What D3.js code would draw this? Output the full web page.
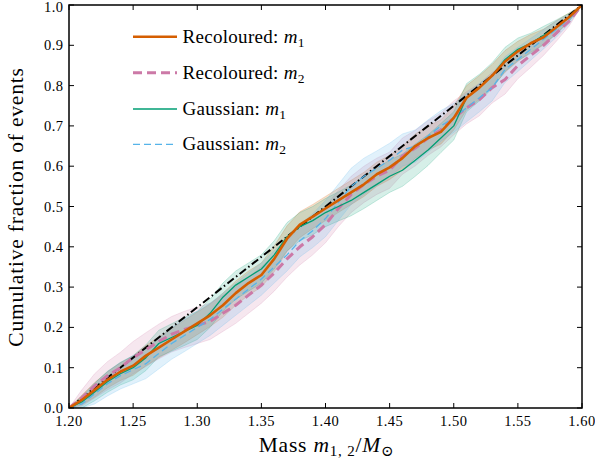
<!DOCTYPE html>
<html><head><meta charset="utf-8">
<script src="https://cdn.jsdelivr.net/npm/d3@7"></script>
<style>
body{margin:0;background:#fff;}
svg{display:block;font-family:"Liberation Serif","DejaVu Serif",serif;}
</style></head>
<body><svg id="c" width="595" height="461"></svg>
<script>
const masses = [1.20,1.21,1.22,1.23,1.24,1.25,1.26,1.27,1.28,1.29,1.30,1.31,1.32,1.33,1.34,1.35,1.36,1.37,1.38,1.39,1.40,1.41,1.42,1.43,1.44,1.45,1.46,1.47,1.48,1.49,1.50,1.51,1.52,1.53,1.54,1.55,1.56,1.57,1.58,1.59,1.60];
const rec1 = [0,0.02,0.045,0.07,0.09,0.105,0.13,0.15,0.17,0.19,0.21,0.23,0.255,0.285,0.31,0.33,0.37,0.42,0.455,0.475,0.495,0.515,0.535,0.555,0.58,0.597,0.62,0.65,0.67,0.685,0.72,0.77,0.795,0.825,0.86,0.885,0.905,0.92,0.945,0.97,1.0];
const rec2 = [0,0.025,0.055,0.08,0.1,0.125,0.145,0.165,0.183,0.195,0.205,0.215,0.235,0.255,0.28,0.305,0.335,0.37,0.40,0.425,0.455,0.495,0.53,0.555,0.575,0.59,0.625,0.645,0.67,0.69,0.72,0.745,0.765,0.795,0.815,0.85,0.875,0.9,0.93,0.96,1.0];
const gau1 = [0,0.015,0.04,0.065,0.085,0.1,0.125,0.16,0.175,0.19,0.205,0.235,0.275,0.305,0.325,0.345,0.38,0.425,0.45,0.465,0.485,0.50,0.515,0.535,0.555,0.575,0.59,0.615,0.64,0.67,0.70,0.77,0.795,0.825,0.865,0.89,0.905,0.925,0.945,0.97,1.0];
const gau2 = [0,0.01,0.035,0.06,0.08,0.095,0.11,0.135,0.16,0.18,0.2,0.22,0.245,0.27,0.295,0.32,0.35,0.38,0.415,0.44,0.47,0.51,0.55,0.575,0.595,0.615,0.64,0.65,0.675,0.70,0.72,0.745,0.77,0.795,0.84,0.865,0.89,0.915,0.94,0.965,1.0];
const rec1Err = [0,0.012,0.018,0.02,0.022,0.024,0.025,0.026,0.027,0.028,0.028,0.028,0.03,0.03,0.03,0.03,0.032,0.032,0.032,0.03,0.03,0.03,0.03,0.03,0.03,0.03,0.03,0.03,0.03,0.03,0.03,0.03,0.03,0.028,0.027,0.025,0.022,0.02,0.016,0.01,0];
const rec2Err = [0,0.02,0.03,0.035,0.038,0.04,0.042,0.043,0.044,0.045,0.045,0.045,0.045,0.045,0.045,0.045,0.045,0.045,0.045,0.045,0.045,0.045,0.045,0.045,0.045,0.045,0.045,0.044,0.043,0.042,0.042,0.04,0.04,0.038,0.036,0.033,0.03,0.025,0.02,0.012,0];
const gau1Err = [0,0.015,0.022,0.026,0.028,0.03,0.032,0.033,0.034,0.035,0.035,0.035,0.035,0.035,0.035,0.035,0.035,0.035,0.035,0.035,0.035,0.036,0.038,0.04,0.04,0.04,0.04,0.04,0.038,0.036,0.035,0.035,0.033,0.032,0.03,0.028,0.025,0.022,0.018,0.01,0];
const gau2Err = [0,0.016,0.025,0.03,0.033,0.035,0.037,0.038,0.039,0.04,0.04,0.04,0.04,0.04,0.04,0.04,0.04,0.04,0.04,0.042,0.045,0.045,0.045,0.045,0.043,0.042,0.04,0.04,0.04,0.038,0.036,0.035,0.035,0.033,0.032,0.03,0.027,0.024,0.02,0.012,0];
const diagX = [1.20,1.60];
const diagY = [0,1];
const xTicks = [1.20,1.25,1.30,1.35,1.40,1.45,1.50,1.55,1.60];
const yTicks = [0.0,0.1,0.2,0.3,0.4,0.5,0.6,0.7,0.8,0.9,1.0];

const L=69,R=582,T=5,B=408;
const svg=d3.select("#c");
const x=d3.scaleLinear().domain([1.2,1.6]).range([L,R]);
const y=d3.scaleLinear().domain([0,1]).range([B,T]);

const series=[
 {name:"Recoloured",sub:"1",vals:rec1,err:rec1Err,color:"#d55e00",w:2.6,dash:null,band:0.2},
 {name:"Recoloured",sub:"2",vals:rec2,err:rec2Err,color:"#cc79a7",w:3,dash:"9,5",band:0.18},
 {name:"Gaussian",sub:"1",vals:gau1,err:gau1Err,color:"#009e73",w:1.3,dash:null,band:0.16},
 {name:"Gaussian",sub:"2",vals:gau2,err:gau2Err,color:"#56b4e9",w:1.3,dash:"7,4",band:0.18}
];

svg.append("clipPath").attr("id","pc").append("rect").attr("x",L).attr("y",T).attr("width",R-L).attr("height",B-T);
const g=svg.append("g").attr("clip-path","url(#pc)");

// bands
series.forEach(s=>{
  const area=d3.area().x((d,i)=>x(masses[i])).y0((d,i)=>y(Math.max(0,s.vals[i]-s.err[i]))).y1((d,i)=>y(Math.min(1,s.vals[i]+s.err[i])));
  g.append("path").datum(masses).attr("d",area).attr("fill",s.color).attr("fill-opacity",s.band)
   .attr("stroke",s.color).attr("stroke-opacity",0.25).attr("stroke-width",0.8);
});
// diagonal
g.append("path").datum(diagX).attr("d",d3.line().x(d=>x(d)).y((d,i)=>y(diagY[i])))
 .attr("fill","none").attr("stroke","#000").attr("stroke-width",2).attr("stroke-dasharray","8,3,1.5,3");
// lines
[1,3,2,0].forEach(k=>{
  const s=series[k];
  g.append("path").datum(masses).attr("d",d3.line().x(d=>x(d)).y((d,i)=>y(s.vals[i])))
   .attr("fill","none").attr("stroke",s.color).attr("stroke-width",s.w)
   .attr("stroke-dasharray",s.dash).attr("stroke-linejoin","round");
});

// ticks inward on all sides
const tk=svg.append("g").attr("stroke","#000").attr("stroke-width",1);
xTicks.forEach(t=>{
  tk.append("line").attr("x1",x(t)).attr("x2",x(t)).attr("y1",B).attr("y2",B-5);
  tk.append("line").attr("x1",x(t)).attr("x2",x(t)).attr("y1",T).attr("y2",T+5);
});
yTicks.forEach(t=>{
  tk.append("line").attr("x1",L).attr("x2",L+5).attr("y1",y(t)).attr("y2",y(t));
  tk.append("line").attr("x1",R).attr("x2",R-5).attr("y1",y(t)).attr("y2",y(t));
});
svg.append("rect").attr("x",L).attr("y",T).attr("width",R-L).attr("height",B-T)
 .attr("fill","none").attr("stroke","#000").attr("stroke-width",1.5);

// tick labels
svg.append("g").selectAll("text").data(xTicks).join("text")
 .attr("x",d=>x(d)).attr("y",425.5).attr("text-anchor","middle").attr("font-size",14.5).attr("letter-spacing",0.5)
 .text(d=>d3.format(".2f")(d));
svg.append("g").selectAll("text").data(yTicks).join("text")
 .attr("x",63.5).attr("y",d=>y(d)).attr("dy",d=>d===1?"0.45em":"0.35em").attr("text-anchor","end").attr("font-size",14.5).attr("letter-spacing",0.5)
 .text(d=>d3.format(".1f")(d));

// x label
const xl=svg.append("text").attr("x",326.5).attr("y",451.5).attr("text-anchor","middle").attr("font-size",21.5).attr("letter-spacing",0.8);
xl.append("tspan").text("Mass ");
xl.append("tspan").attr("font-style","italic").text("m");
xl.append("tspan").attr("font-size",15).attr("dy",4).text("1, 2");
xl.append("tspan").attr("dy",-4).text("/");
xl.append("tspan").attr("font-style","italic").text("M");
xl.append("tspan").attr("font-size",15).attr("dy",4).text("\u2299");

// y label
svg.append("text").attr("transform","translate(22.5,207) rotate(-90)").attr("text-anchor","middle")
 .attr("font-size",21.5).attr("letter-spacing",0.8).text("Cumulative fraction of events");

// legend
const rows=[36.7,72.7,109,144.3];
series.forEach((s,i)=>{
  svg.append("line").attr("x1",133).attr("x2",177).attr("y1",rows[i]).attr("y2",rows[i])
   .attr("stroke",s.color).attr("stroke-width",s.w).attr("stroke-dasharray",s.dash);
  const t=svg.append("text").attr("x",182.5).attr("y",rows[i]+6).attr("font-size",19).attr("letter-spacing",0.3);
  t.append("tspan").text(s.name+": ");
  t.append("tspan").attr("font-style","italic").text(" m");
  t.append("tspan").attr("font-size",13.5).attr("dy",4).text(s.sub);
});
</script></body></html>
